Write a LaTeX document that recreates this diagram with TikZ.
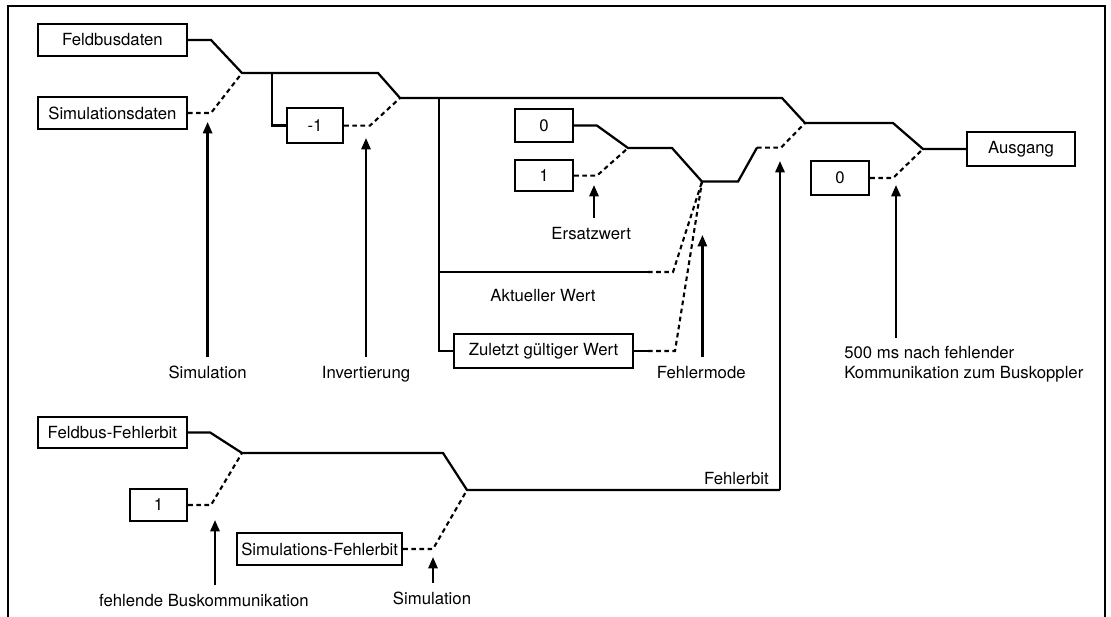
\documentclass[tikz,border=0pt]{standalone}
\usepackage{fontspec}
\setmainfont{TeX Gyre Heros}
\usetikzlibrary{arrows.meta,positioning,calc}

\begin{document}
\begin{tikzpicture}[
    box/.style={draw, line width=1.6pt, minimum width=1.45cm, minimum height=0.8cm, inner sep=2pt, align=center, font=\fontsize{11.9}{14.2}\selectfont},
    lab/.style={inner sep=0pt, align=left, font=\fontsize{11.9}{14.2}\selectfont},
    sig/.style={line width=1.6pt},
    sim/.style={line width=1.5pt, dash pattern=on 3.3pt off 2.5pt},
    arr/.style={-{Triangle[length=8pt,width=6.5pt]}, line width=1.6pt},
    pfeil/.style={arr, shorten <=6pt}
]
\useasboundingbox (0,0) rectangle (27.775,-15.4);
\draw[line width=1.2pt] (0.2,-15.6) -- (0.2,-0.15) -- (27.625,-0.15) -- (27.625,-15.6);

\node[box, minimum width=3.72cm] (feld) at (2.81,-1.0) {Feldbusdaten};
\node[box, minimum width=3.72cm] (simd) at (2.81,-2.825) {Simulationsdaten};
\node[box, minimum width=1.4cm, minimum height=0.87cm] (inv) at (7.875,-3.14) {-1};
\node[box, minimum height=0.83cm] (null) at (13.6,-3.14) {0};
\node[box, minimum height=0.78cm] (eins) at (13.6,-4.39) {1};
\node[box, minimum width=4.47cm, minimum height=0.85cm] (zul) at (13.59,-8.775) {Zuletzt gültiger Wert};
\node[box, minimum width=2.7cm, minimum height=0.85cm] (aus) at (25.525,-3.725) {Ausgang};
\node[box, minimum height=0.85cm] (nullb) at (21.0,-4.45) {0};
\node[box, minimum width=3.72cm, minimum height=0.78cm] (ffb) at (2.81,-10.81) {Feldbus-Fehlerbit};
\node[box, minimum width=1.43cm] (einsb) at (3.96,-12.625) {1};
\node[box, minimum width=4.12cm] (sfb) at (7.99,-13.725) {Simulations-Fehlerbit};

\coordinate (s1) at (6.05,-1.825);
\coordinate (s2) at (10.0,-2.45);
\coordinate (s3) at (15.7,-3.7);
\coordinate (s4) at (17.55,-4.54);
\coordinate (s5) at (20.125,-3.075);
\coordinate (s6) at (23.075,-3.725);
\coordinate (s7) at (6.05,-11.325);
\coordinate (s8) at (11.675,-12.25);
\coordinate (k1) at (6.8,-1.825);
\coordinate (k2) at (10.975,-2.45);
\coordinate (k3) at (10.975,-6.8);
\coordinate (akt) at (16.2,-6.8);
\coordinate (zulend) at (16.2,-8.775);
\coordinate (m1) at (18.925,-3.69);
\coordinate (fb) at (19.5,-12.25);
\coordinate (fbtip) at (19.5,-4.025);

\draw[sig] (feld.east) -- (5.275,-1.0) -- (s1) -- (9.45,-1.825) -- (s2) -- (19.55,-2.45) -- (s5) -- (22.325,-3.075) -- (s6) -- (aus.west);
\draw[sim] (simd.east) -- (5.275,-2.825) -- (s1);
\draw[sig] (k1) |- (inv.west);
\draw[sim] (inv.east) -- (9.25,-3.14) -- (s2);
\draw[sig] (k2) |- (zul.west);
\draw[sig] (k3) -- (akt);
\draw[sim] (akt) -- (16.825,-6.8) -- (s4);
\draw[sig] (zul.east) -- (zulend);
\draw[sim] (zulend) -- (16.875,-8.775) -- (s4);
\draw[sig] (null.east) -- (14.925,-3.14) -- (s3) -- (16.8,-3.7) -- (s4) -- (18.45,-4.54) -- (m1);
\draw[sim] (m1) -- (19.525,-3.69) -- (s5);
\draw[sim] (eins.east) -- (14.925,-4.39) -- (s3);
\draw[sim] (nullb.east) -- (22.325,-4.45) -- (s6);
\draw[sig] (ffb.east) -- (5.25,-10.81) -- (s7) -- (11.075,-11.325) -- (s8) -- (fb);
\draw[sim] (einsb.east) -- (5.275,-12.625) -- (s7);
\draw[sim] (sfb.east) -- (10.825,-13.725) -- (s8);
\draw[arr] (fb) -- (fbtip);

\node[lab, anchor=base] (sim1) at (5.19,-9.45) {Simulation};
\node[lab, anchor=base] (invl) at (9.15,-9.45) {Invertierung};
\node[lab, anchor=base] (ersl) at (14.78,-5.975) {Ersatzwert};
\node[lab, anchor=base] (aktl) at (13.575,-7.525) {Aktueller Wert};
\node[lab, anchor=base] (fml) at (17.53,-9.45) {Fehlermode};
\node[lab, anchor=north west] (msl) at (21.1,-8.66) {500 ms nach fehlender\\Kommunikation zum Buskoppler};
\node[lab, anchor=base east] (fbl) at (19.225,-12.1) {Fehlerbit};
\node[lab, anchor=base] (busl) at (5.1,-15.15) {fehlende Buskommunikation};
\node[lab, anchor=base] (sim2) at (10.8,-15.1) {Simulation};

\coordinate (t1) at (5.19,-3.05);
\coordinate (t2) at (9.15,-3.45);
\coordinate (t3) at (14.85,-4.625);
\coordinate (t4) at (17.56,-5.875);
\coordinate (t5) at (22.4,-4.625);
\coordinate (t6) at (5.375,-13.0);
\coordinate (t7) at (10.825,-13.925);

\draw[pfeil] (t1 |- sim1.north) -- (t1);
\draw[pfeil] (t2 |- invl.north) -- (t2);
\draw[pfeil] (t3 |- ersl.north) -- (t3);
\draw[pfeil] (t4 |- fml.north) -- (t4);
\draw[pfeil] (t5 |- msl.north) -- (t5);
\draw[pfeil] (t6 |- busl.north) -- (t6);
\draw[pfeil] (t7 |- sim2.north) -- (t7);
\end{tikzpicture}
\end{document}
